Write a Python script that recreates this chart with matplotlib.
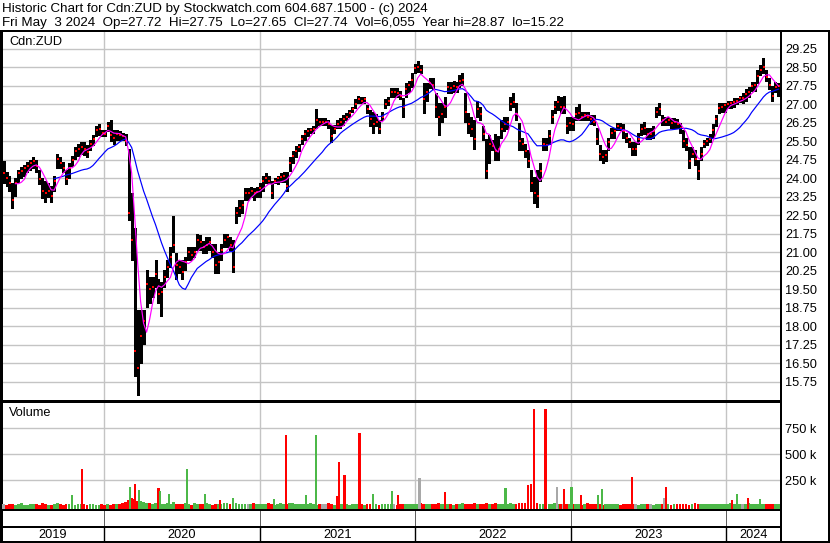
import matplotlib
matplotlib.use('Agg')
import matplotlib.pyplot as plt
import matplotlib.dates as mdates
import numpy as np
import pandas as pd
from matplotlib.lines import Line2D

# ---------------- data (weekly bars) ----------------
week_start = '2019-05-10'
n_weeks = 261

week_high = [
    24.70, 24.25, 24.10, 23.80, 24.00, 24.35, 24.45, 24.55, 24.65, 24.75,
    24.85, 24.75, 24.35, 24.00, 23.90, 23.80, 23.70, 24.10, 25.00, 24.85,
    24.65, 24.35, 24.60, 24.90, 25.25, 25.40, 25.45, 25.45, 25.35, 25.55,
    25.75, 26.10, 26.20, 25.95, 25.95, 26.30, 26.35, 25.95, 25.95, 25.90,
    25.85, 25.80, 25.20, 23.40, 22.00, 18.65, 18.65, 18.65, 20.30, 20.00,
    20.00, 20.70, 19.90, 19.80, 20.30, 20.70, 21.20, 22.45, 20.95, 20.70,
    20.70, 20.80, 21.20, 21.20, 21.20, 21.75, 21.70, 21.45, 21.60, 21.60,
    21.35, 21.35, 21.00, 21.35, 21.75, 21.75, 21.60, 21.50, 22.85, 23.10,
    23.10, 23.60, 23.60, 23.65, 23.60, 23.65, 23.80, 24.10, 24.20, 24.10,
    23.90, 24.00, 24.10, 24.20, 24.25, 24.25, 24.85, 25.10, 25.30, 25.40,
    25.75, 25.95, 26.05, 26.05, 26.10, 26.80, 26.45, 26.45, 26.45, 26.35,
    26.15, 26.15, 26.35, 26.45, 26.55, 26.65, 26.75, 26.90, 27.20, 27.35,
    27.30, 27.30, 26.95, 26.75, 26.70, 26.60, 26.35, 26.70, 27.20, 27.30,
    27.65, 27.65, 27.65, 27.55, 27.25, 27.85, 27.95, 28.25, 28.65, 28.75,
    28.60, 27.85, 27.85, 28.05, 28.05, 27.45, 27.05, 27.05, 27.30, 27.90,
    27.90, 27.95, 27.90, 28.20, 28.25, 27.45, 26.65, 26.50, 26.35, 27.15,
    26.90, 26.10, 25.60, 25.75, 25.55, 25.80, 25.70, 26.35, 26.50, 26.50,
    27.30, 27.45, 27.05, 26.25, 25.65, 25.40, 25.15, 24.35, 24.05, 24.35,
    24.60, 25.65, 25.65, 25.95, 26.75, 27.15, 27.35, 27.30, 27.35, 26.50,
    26.50, 26.50, 26.90, 27.00, 26.70, 26.70, 26.70, 26.55, 26.55, 26.05,
    25.35, 25.15, 25.15, 25.65, 26.05, 26.05, 26.25, 26.25, 26.20, 25.85,
    25.65, 25.45, 25.45, 25.85, 26.20, 26.30, 26.05, 26.05, 26.10, 26.90,
    27.05, 26.55, 26.50, 26.50, 26.45, 26.45, 26.40, 26.25, 25.95, 25.65,
    25.25, 25.25, 25.15, 24.75, 25.25, 25.55, 25.65, 25.80, 26.20, 26.55,
    27.05, 27.05, 27.05, 27.15, 27.15, 27.25, 27.25, 27.35, 27.45, 27.60,
    27.70, 27.90, 27.90, 28.40, 28.60, 28.87, 28.40, 28.05, 27.75, 27.90,
    27.85]

week_low = [
    23.80, 23.70, 23.50, 22.80, 23.30, 23.85, 24.00, 24.10, 24.25, 24.35,
    24.40, 24.25, 23.75, 23.20, 23.05, 23.25, 23.05, 23.50, 24.40, 24.40,
    24.25, 23.75, 24.00, 24.50, 24.80, 24.90, 25.00, 24.95, 24.85, 25.15,
    25.35, 25.70, 25.75, 25.70, 25.70, 25.90, 25.50, 25.40, 25.55, 25.55,
    25.55, 25.35, 22.30, 20.70, 16.00, 15.22, 16.50, 17.30, 18.80, 18.95,
    19.20, 19.60, 18.95, 18.40, 19.60, 20.00, 20.40, 21.00, 19.90, 20.15,
    19.90, 20.30, 20.70, 20.70, 20.80, 21.10, 21.10, 20.95, 20.95, 21.10,
    20.80, 20.15, 20.15, 20.70, 21.20, 21.20, 21.10, 20.20, 22.20, 22.45,
    22.60, 23.10, 23.10, 23.25, 23.10, 23.25, 23.25, 23.50, 23.80, 23.80,
    23.20, 23.80, 23.75, 23.85, 23.85, 23.50, 24.30, 24.60, 24.85, 25.10,
    25.40, 25.55, 25.70, 25.85, 25.85, 26.05, 26.15, 26.15, 26.15, 26.05,
    25.45, 25.85, 26.05, 26.05, 26.15, 26.35, 26.50, 26.70, 26.85, 27.05,
    27.05, 27.05, 26.65, 26.10, 25.85, 26.10, 25.85, 26.35, 26.85, 26.95,
    27.30, 27.30, 27.30, 27.20, 26.50, 27.30, 27.50, 27.70, 28.25, 28.30,
    28.25, 26.65, 27.15, 27.65, 27.60, 26.50, 25.75, 26.30, 26.50, 27.45,
    27.45, 27.50, 27.50, 27.70, 27.80, 26.30, 25.85, 25.70, 25.20, 26.50,
    26.35, 25.55, 24.00, 24.60, 25.15, 24.75, 24.75, 25.65, 25.90, 26.00,
    26.75, 26.90, 26.35, 25.15, 25.15, 24.85, 24.45, 23.50, 23.00, 22.83,
    23.90, 25.15, 25.15, 25.40, 26.25, 26.65, 26.75, 26.65, 26.65, 25.85,
    25.95, 25.95, 26.35, 26.35, 26.35, 26.35, 26.35, 26.20, 26.15, 25.40,
    24.75, 24.60, 24.70, 25.15, 25.65, 25.65, 25.95, 25.95, 25.65, 25.45,
    25.25, 24.95, 24.95, 25.40, 25.75, 25.80, 25.60, 25.60, 25.65, 26.50,
    26.55, 26.15, 26.15, 26.15, 26.05, 26.05, 26.05, 25.85, 25.25, 25.15,
    24.40, 24.85, 24.55, 23.97, 24.75, 25.25, 25.35, 25.45, 25.65, 26.10,
    26.65, 26.70, 26.70, 26.85, 26.85, 26.90, 27.00, 27.10, 27.05, 27.15,
    27.30, 27.55, 27.55, 27.85, 28.20, 28.25, 27.95, 27.60, 27.15, 27.50,
    27.35]

week_close = [
    24.20, 24.00, 23.80, 23.10, 23.80, 24.20, 24.30, 24.40, 24.50, 24.60,
    24.70, 24.50, 23.95, 23.50, 23.40, 23.50, 23.30, 23.90, 24.80, 24.60,
    24.40, 23.95, 24.40, 24.75, 25.10, 25.20, 25.25, 25.20, 25.05, 25.40,
    25.60, 25.95, 26.00, 25.85, 25.80, 26.10, 25.75, 25.65, 25.80, 25.75,
    25.70, 25.50, 22.60, 21.50, 17.00, 16.30, 17.60, 18.20, 19.70, 19.50,
    19.60, 20.10, 19.30, 19.40, 20.00, 20.40, 20.80, 21.30, 20.50, 20.40,
    20.20, 20.60, 21.00, 20.90, 21.00, 21.50, 21.40, 21.20, 21.30, 21.40,
    21.00, 20.50, 20.60, 21.10, 21.50, 21.60, 21.30, 20.40, 22.60, 22.80,
    22.90, 23.40, 23.40, 23.50, 23.40, 23.45, 23.60, 23.90, 24.00, 23.90,
    23.40, 23.90, 24.00, 24.05, 24.10, 23.70, 24.60, 24.90, 25.10, 25.25,
    25.60, 25.80, 25.90, 25.95, 26.00, 26.35, 26.30, 26.30, 26.30, 26.20,
    25.70, 26.00, 26.20, 26.30, 26.40, 26.50, 26.65, 26.80, 27.00, 27.20,
    27.15, 27.20, 26.80, 26.40, 26.20, 26.30, 26.00, 26.50, 27.00, 27.15,
    27.50, 27.50, 27.45, 27.35, 26.90, 27.60, 27.80, 28.00, 28.45, 28.50,
    28.40, 27.20, 27.50, 27.85, 27.80, 26.90, 26.50, 26.60, 26.90, 27.70,
    27.65, 27.75, 27.70, 27.95, 28.00, 26.70, 26.20, 26.00, 25.60, 26.80,
    26.60, 25.80, 24.30, 25.40, 25.30, 25.10, 25.20, 26.00, 26.20, 26.30,
    27.00, 27.10, 26.60, 25.50, 25.40, 25.10, 24.70, 23.80, 23.40, 23.30,
    24.30, 25.40, 25.35, 25.70, 26.50, 26.90, 27.10, 26.90, 26.90, 26.10,
    26.25, 26.20, 26.60, 26.65, 26.50, 26.55, 26.50, 26.40, 26.30, 25.60,
    25.00, 24.85, 24.95, 25.45, 25.85, 25.90, 26.10, 26.05, 25.90, 25.65,
    25.45, 25.20, 25.20, 25.60, 26.00, 26.05, 25.80, 25.80, 25.90, 26.70,
    26.80, 26.35, 26.30, 26.35, 26.25, 26.30, 26.20, 26.05, 25.50, 25.35,
    24.70, 25.00, 24.80, 24.30, 25.00, 25.40, 25.50, 25.60, 25.95, 26.40,
    26.85, 26.90, 26.95, 27.00, 27.05, 27.10, 27.15, 27.25, 27.25, 27.40,
    27.50, 27.75, 27.80, 28.15, 28.40, 28.50, 28.10, 27.80, 27.35, 27.70,
    27.74]

# background weekly volume, thousands of shares
week_volume_k = [
    20, 15, 25, 18, 12, 22, 30, 15, 10, 18, 25, 20, 14, 28, 22, 16, 12, 20, 30, 18,
    15, 24, 20, 12, 16, 22, 18, 25, 14, 20, 26, 15, 12, 18,
    15, 20, 12, 25, 18, 22, 30, 45, 60, 80, 70, 55, 50, 40, 35, 30, 25, 28, 35, 20,
    18, 30, 25, 40, 22, 18, 25, 30, 20, 15, 28, 22, 18, 24, 30, 20, 16, 25, 22, 18,
    28, 35, 24, 20, 30, 22, 18, 26, 20, 24, 30, 22,
    18, 25, 20, 30, 22, 15, 20, 28, 18, 22, 35, 30, 25, 20, 18, 26, 22, 30, 20, 16,
    24, 18, 22, 28, 20, 15, 22, 18, 25, 20, 16, 22, 26, 18, 20, 15, 24, 20, 18, 22,
    16, 20, 25, 18, 22, 20, 15, 24, 18, 22, 20, 26,
    20, 25, 30, 22, 18, 26, 20, 24, 30, 22, 18, 20, 25, 16, 22, 20, 28, 24, 18, 22,
    30, 26, 20, 24, 28, 22, 18, 30, 25, 20, 22, 26, 30, 24, 20, 28, 35, 30, 25, 22,
    28, 30, 24, 20, 26, 22, 25, 30, 22, 18, 24, 20,
    22, 18, 25, 20, 16, 22, 28, 20, 18, 24, 20, 15, 22, 26, 18, 20, 24, 16, 22, 20,
    18, 25, 20, 15, 22, 18, 24, 20, 16, 22, 26, 18, 20, 24, 15, 20, 22, 18, 25, 20,
    16, 22, 28, 20, 18, 24, 20, 22, 18, 25, 20, 22,
    24, 20, 28, 22, 18, 26, 20, 24, 30, 22, 18, 25, 20, 22, 26, 18, 24, 20, 22]

# single-day volume spikes (date, thousands, direction)
spike_dates = ['2019-10-17', '2019-11-11', '2020-03-02', '2020-03-13', '2020-03-23',
               '2020-05-08', '2020-05-12', '2020-06-02', '2020-07-13', '2020-08-25',
               '2020-09-29', '2020-10-30', '2021-02-03', '2021-03-03', '2021-04-20',
               '2021-05-13', '2021-07-02', '2021-07-06', '2021-07-19', '2021-08-23',
               '2021-09-24', '2021-11-08', '2021-11-22', '2022-01-11', '2022-03-11',
               '2022-08-01', '2022-09-22', '2022-09-30', '2022-10-06', '2022-11-03',
               '2022-11-30', '2022-12-16', '2023-01-03', '2023-01-25', '2023-03-07',
               '2023-03-16', '2023-05-26', '2023-08-09', '2023-08-14', '2024-01-15',
               '2024-01-26', '2024-02-22', '2024-03-20']
spike_volume_k = [106, 356, 183, 211, 154,
                  173, 144, 115, 356, 115,
                  60, 80, 70, 683, 106,
                  683, 96, 426, 298, 701,
                  115, 144, 106, 272, 135,
                  173, 202, 211, 932, 932,
                  183, 163, 183, 106, 110,
                  163, 280, 75, 183, 60,
                  120, 75, 70]
spike_dir = ['up', 'down', 'up', 'down', 'up',
             'down', 'up', 'up', 'up', 'up',
             'down', 'up', 'up', 'down', 'up',
             'up', 'down', 'down', 'down', 'down',
             'up', 'up', 'down', 'flat', 'down',
             'up', 'down', 'down', 'down', 'down',
             'flat', 'down', 'up', 'down', 'up',
             'up', 'down', 'flat', 'down', 'down',
             'up', 'down', 'up']

price_ticks = [15.75, 16.50, 17.25, 18.00, 18.75, 19.50, 20.25, 21.00, 21.75, 22.50,
               23.25, 24.00, 24.75, 25.50, 26.25, 27.00, 27.75, 28.50, 29.25]
volume_ticks_k = [250, 500, 750]
year_labels = ['2019', '2020', '2021', '2022', '2023', '2024']

header1 = 'Historic Chart for Cdn:ZUD by Stockwatch.com 604.687.1500 - (c) 2024'
header2 = ('Fri May  3 2024  Op=27.72  Hi=27.75  Lo=27.65  Cl=27.74  '
           'Vol=6,055  Year hi=28.87  lo=15.22')

fast_ma_weeks = 5
slow_ma_weeks = 18

# ---------------- figure ----------------
plt.rcParams['font.family'] = ['Liberation Sans', 'DejaVu Sans']
W, H = 830, 543
fig = plt.figure(figsize=(W / 100, H / 100), dpi=100)
fig.patch.set_facecolor('white')

def fx(px):
    return px / W

def fy(py):
    return 1 - py / H

def add_ax(x0, y0, x1, y1):
    return fig.add_axes([fx(x0), fy(y1), fx(x1) - fx(x0), fy(y0) - fy(y1)])

GRID = '#c4c4c4'
FS = 9.2
FS_HEAD = 9.65
PX = 0.72  # one pixel in points

dates = pd.date_range(week_start, periods=n_weeks, freq='W-FRI')
xd = mdates.date2num(dates)
origin = mdates.date2num(pd.Timestamp('2020-01-01'))
xlim = (origin - 239.6, origin + 1590.2)
year_starts = [mdates.date2num(pd.Timestamp(f'{y}-01-01')) for y in range(2020, 2025)]

hi = np.array(week_high)
lo = np.array(week_low)
cl = np.array(week_close)
close_s = pd.Series(cl, index=dates)
ma_fast = close_s.rolling(fast_ma_weeks).mean()
ma_slow = close_s.rolling(slow_ma_weeks).mean()

# ---- price panel
ax = add_ax(2, 31, 781, 401)
ax.set_xlim(*xlim)
ax.set_ylim(14.97, 29.97)
ax.set_yticks(price_ticks)
ax.set_yticklabels([f'{t:.2f}' for t in price_ticks])
ax.yaxis.tick_right()
ax.tick_params(axis='y', length=0, pad=3.2, labelsize=FS)
ax.set_xticks(year_starts)
ax.tick_params(axis='x', length=0, labelbottom=False)
ax.grid(True, color=GRID, lw=1.4 * PX)
ax.set_axisbelow(True)
ax.vlines(xd, lo, hi, color='black', lw=2.9 * PX, zorder=3, antialiased=False)
ax.plot(xd + 1.5, cl, ls='none', marker='s', ms=1.7, mew=0, color='red', zorder=4)
ax.plot(xd, ma_slow.values, color='#0000ff', lw=1.2 * PX, zorder=5)
ax.plot(xd, ma_fast.values, color='#ff00ff', lw=1.2 * PX, zorder=6)
for s in ax.spines.values():
    s.set_color('black')
    s.set_linewidth(2 * PX)
ax.text(fx(9), fy(42), 'Cdn:ZUD', transform=fig.transFigure, fontsize=FS,
        va='center', ha='left')

# ---- volume panel
axv = add_ax(2, 402, 781, 509.5)
axv.set_xlim(*xlim)
vfloor = -30.8
axv.set_ylim(vfloor, 1003)
axv.set_yticks(volume_ticks_k)
axv.set_yticklabels([f'{v} k' for v in volume_ticks_k])
axv.yaxis.tick_right()
axv.tick_params(axis='y', length=0, pad=3.2, labelsize=FS)
axv.set_xticks(year_starts)
axv.tick_params(axis='x', length=0, labelbottom=False)
axv.grid(True, color=GRID, lw=1.4 * PX)
axv.set_axisbelow(True)
prev = np.concatenate([[cl[0]], cl[:-1]])
wcol = np.where(cl > prev, '#4cb848', np.where(cl < prev, '#ff0000', '#a8a8a8'))
wv = np.array(week_volume_k, dtype=float)
axv.bar(xd, wv - vfloor, bottom=vfloor, width=6.5, color=wcol, lw=0, zorder=3)
sd = mdates.date2num(pd.to_datetime(spike_dates))
sv = np.array(spike_volume_k, dtype=float)
cmap = {'up': '#4cb848', 'down': '#ff0000', 'flat': '#a8a8a8'}
axv.bar(sd, sv - vfloor, bottom=vfloor, width=5.0, color=[cmap[d] for d in spike_dir],
        lw=0, zorder=4, antialiased=False)
for s in axv.spines.values():
    s.set_color('black')
    s.set_linewidth(2 * PX)
axv.text(fx(9), fy(413), 'Volume', transform=fig.transFigure, fontsize=FS,
         va='center', ha='left')

# ---- empty strip + year strip
axs = add_ax(2, 510, 781, 527)
axs.set_xlim(*xlim)
axs.set_ylim(0, 1)
axs.set_yticks([])
axs.set_xticks(year_starts)
axs.tick_params(axis='x', length=0, labelbottom=False)
axs.grid(True, axis='x', color='#606060', lw=1 * PX)
for s in axs.spines.values():
    s.set_color('black')
    s.set_linewidth(2 * PX)

axy = add_ax(2, 527, 781, 542)
axy.set_xlim(*xlim)
axy.set_ylim(0, 1)
axy.set_yticks([])
axy.set_xticks(year_starts)
axy.tick_params(axis='x', length=0, labelbottom=False)
axy.grid(True, axis='x', color='black', lw=1.4 * PX)
for s in axy.spines.values():
    s.set_color('black')
    s.set_linewidth(2 * PX)
bounds = [xlim[0]] + year_starts + [xlim[1]]
for lab, a, b in zip(year_labels, bounds[:-1], bounds[1:]):
    axy.text((a + b) / 2, 0.45, lab, ha='center', va='center', fontsize=FS)

# ---- header & frame
fig.text(fx(2), fy(9), header1, fontsize=FS_HEAD, va='center', ha='left')
fig.text(fx(2), fy(23), header2, fontsize=FS_HEAD, va='center', ha='left')

def hline(y, x0, x1, lw=2):
    fig.add_artist(Line2D([fx(x0), fx(x1)], [fy(y), fy(y)], color='black',
                          lw=lw * PX, transform=fig.transFigure))

def vline(x, y0, y1, lw=2):
    fig.add_artist(Line2D([fx(x), fx(x)], [fy(y0), fy(y1)], color='black',
                          lw=lw * PX, transform=fig.transFigure))

hline(31, 0, 830)
hline(542, 0, 830)
vline(1, 31, 543)
vline(829, 31, 543)

fig.savefig('out.png', dpi=100, facecolor='white')
